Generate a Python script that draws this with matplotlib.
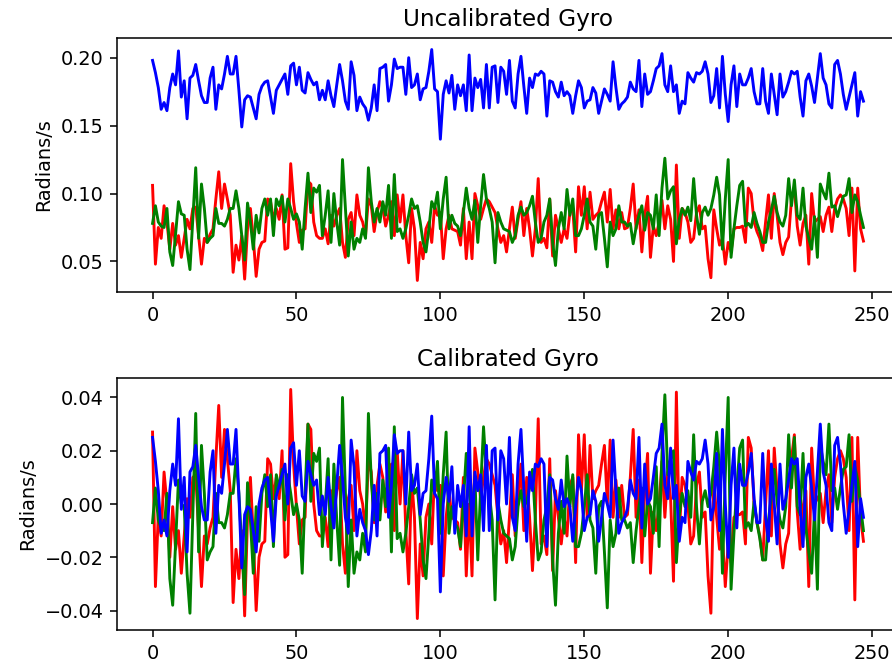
import matplotlib.pyplot as plt
import numpy as np

# Raw gyro readings, radians/s (x = red, y = green, z = blue)
gyro_x = [0.106, 0.048, 0.075, 0.067, 0.091, 0.079, 0.059, 0.078, 0.062, 0.069,
          0.053, 0.067, 0.081, 0.074, 0.089, 0.090, 0.069, 0.048, 0.067, 0.064,
          0.070, 0.074, 0.096, 0.116, 0.089, 0.107, 0.096, 0.084, 0.042, 0.062,
          0.051, 0.069, 0.037, 0.074, 0.089, 0.067, 0.039, 0.059, 0.064, 0.065,
          0.096, 0.094, 0.081, 0.089, 0.081, 0.099, 0.059, 0.060, 0.122, 0.094,
          0.078, 0.064, 0.073, 0.074, 0.109, 0.107, 0.079, 0.069, 0.067, 0.067,
          0.074, 0.063, 0.084, 0.076, 0.084, 0.089, 0.064, 0.053, 0.081, 0.086,
          0.069, 0.099, 0.084, 0.079, 0.069, 0.096, 0.091, 0.072, 0.086, 0.094,
          0.089, 0.076, 0.084, 0.094, 0.069, 0.099, 0.079, 0.099, 0.069, 0.049,
          0.089, 0.074, 0.036, 0.064, 0.052, 0.074, 0.079, 0.064, 0.091, 0.084,
          0.086, 0.052, 0.074, 0.084, 0.074, 0.073, 0.072, 0.062, 0.089, 0.052,
          0.079, 0.052, 0.100, 0.091, 0.081, 0.089, 0.096, 0.094, 0.090, 0.086,
          0.074, 0.064, 0.069, 0.057, 0.074, 0.090, 0.067, 0.081, 0.094, 0.069,
          0.089, 0.074, 0.054, 0.074, 0.111, 0.064, 0.067, 0.060, 0.096, 0.054,
          0.084, 0.074, 0.064, 0.074, 0.067, 0.086, 0.089, 0.057, 0.105, 0.084,
          0.105, 0.074, 0.101, 0.081, 0.084, 0.086, 0.094, 0.101, 0.079, 0.103,
          0.074, 0.088, 0.074, 0.086, 0.074, 0.075, 0.089, 0.107, 0.074, 0.088,
          0.057, 0.084, 0.098, 0.053, 0.076, 0.069, 0.079, 0.095, 0.074, 0.091,
          0.081, 0.050, 0.121, 0.067, 0.089, 0.086, 0.079, 0.064, 0.067, 0.086,
          0.091, 0.074, 0.076, 0.052, 0.038, 0.088, 0.074, 0.062, 0.067, 0.048,
          0.064, 0.057, 0.074, 0.075, 0.075, 0.076, 0.064, 0.104, 0.100, 0.079,
          0.072, 0.067, 0.058, 0.079, 0.099, 0.067, 0.100, 0.084, 0.064, 0.055,
          0.064, 0.068, 0.096, 0.105, 0.076, 0.062, 0.078, 0.084, 0.048, 0.100,
          0.079, 0.081, 0.083, 0.072, 0.084, 0.090, 0.072, 0.089, 0.096, 0.099,
          0.096, 0.089, 0.069, 0.104, 0.043, 0.104, 0.074, 0.065]

gyro_y = [0.078, 0.091, 0.079, 0.076, 0.075, 0.089, 0.057, 0.047, 0.070, 0.094,
          0.085, 0.084, 0.059, 0.044, 0.081, 0.119, 0.067, 0.107, 0.089, 0.064,
          0.067, 0.069, 0.089, 0.078, 0.078, 0.076, 0.081, 0.089, 0.089, 0.102,
          0.089, 0.069, 0.051, 0.093, 0.079, 0.059, 0.084, 0.071, 0.089, 0.096,
          0.084, 0.096, 0.069, 0.096, 0.091, 0.098, 0.079, 0.096, 0.089, 0.081,
          0.085, 0.079, 0.059, 0.089, 0.115, 0.086, 0.104, 0.101, 0.106, 0.069,
          0.084, 0.102, 0.064, 0.100, 0.079, 0.062, 0.125, 0.089, 0.054, 0.079,
          0.059, 0.067, 0.064, 0.074, 0.067, 0.119, 0.094, 0.079, 0.089, 0.079,
          0.094, 0.084, 0.106, 0.067, 0.114, 0.072, 0.074, 0.067, 0.074, 0.084,
          0.096, 0.089, 0.091, 0.079, 0.064, 0.057, 0.074, 0.094, 0.089, 0.101,
          0.074, 0.096, 0.112, 0.074, 0.084, 0.078, 0.076, 0.069, 0.086, 0.104,
          0.089, 0.081, 0.095, 0.064, 0.091, 0.114, 0.096, 0.089, 0.079, 0.049,
          0.086, 0.079, 0.074, 0.073, 0.072, 0.064, 0.069, 0.084, 0.090, 0.084,
          0.086, 0.091, 0.098, 0.079, 0.064, 0.067, 0.079, 0.084, 0.096, 0.064,
          0.047, 0.074, 0.086, 0.074, 0.103, 0.084, 0.096, 0.069, 0.069, 0.074,
          0.084, 0.096, 0.079, 0.076, 0.059, 0.084, 0.086, 0.067, 0.046, 0.079,
          0.069, 0.074, 0.091, 0.079, 0.079, 0.076, 0.078, 0.063, 0.075, 0.084,
          0.091, 0.073, 0.086, 0.084, 0.074, 0.099, 0.069, 0.104, 0.126, 0.096,
          0.102, 0.105, 0.063, 0.081, 0.089, 0.084, 0.090, 0.080, 0.111, 0.084,
          0.070, 0.086, 0.090, 0.084, 0.089, 0.099, 0.112, 0.099, 0.059, 0.096,
          0.125, 0.053, 0.074, 0.091, 0.106, 0.109, 0.076, 0.078, 0.075, 0.086,
          0.078, 0.072, 0.064, 0.064, 0.079, 0.088, 0.098, 0.086, 0.079, 0.076,
          0.084, 0.111, 0.091, 0.110, 0.084, 0.081, 0.104, 0.076, 0.067, 0.059,
          0.083, 0.053, 0.107, 0.101, 0.096, 0.115, 0.090, 0.091, 0.083, 0.091,
          0.098, 0.099, 0.111, 0.086, 0.099, 0.094, 0.084, 0.075]

gyro_z = [0.198, 0.189, 0.178, 0.162, 0.167, 0.161, 0.178, 0.188, 0.180, 0.205,
          0.171, 0.183, 0.155, 0.185, 0.187, 0.195, 0.183, 0.172, 0.167, 0.167,
          0.185, 0.193, 0.162, 0.180, 0.177, 0.188, 0.201, 0.188, 0.188, 0.201,
          0.176, 0.149, 0.169, 0.172, 0.171, 0.163, 0.155, 0.173, 0.179, 0.182,
          0.183, 0.171, 0.159, 0.176, 0.180, 0.184, 0.188, 0.173, 0.194, 0.196,
          0.180, 0.193, 0.176, 0.174, 0.189, 0.184, 0.180, 0.182, 0.169, 0.176,
          0.169, 0.183, 0.172, 0.164, 0.180, 0.195, 0.183, 0.168, 0.162, 0.197,
          0.187, 0.161, 0.171, 0.166, 0.163, 0.154, 0.163, 0.180, 0.161, 0.192,
          0.193, 0.195, 0.168, 0.180, 0.199, 0.192, 0.193, 0.193, 0.173, 0.200,
          0.178, 0.180, 0.188, 0.169, 0.177, 0.178, 0.190, 0.206, 0.177, 0.175,
          0.140, 0.173, 0.183, 0.174, 0.187, 0.162, 0.180, 0.172, 0.180, 0.161,
          0.202, 0.161, 0.185, 0.178, 0.184, 0.163, 0.195, 0.163, 0.193, 0.194,
          0.167, 0.193, 0.190, 0.173, 0.198, 0.168, 0.163, 0.188, 0.201, 0.179,
          0.159, 0.185, 0.178, 0.188, 0.187, 0.190, 0.188, 0.157, 0.183, 0.182,
          0.175, 0.171, 0.182, 0.172, 0.175, 0.172, 0.159, 0.172, 0.183, 0.178,
          0.163, 0.168, 0.169, 0.178, 0.174, 0.159, 0.168, 0.177, 0.173, 0.168,
          0.197, 0.178, 0.162, 0.166, 0.168, 0.171, 0.182, 0.177, 0.175, 0.198,
          0.164, 0.188, 0.173, 0.175, 0.183, 0.192, 0.194, 0.203, 0.180, 0.175,
          0.194, 0.175, 0.180, 0.159, 0.168, 0.166, 0.189, 0.185, 0.182, 0.189,
          0.188, 0.190, 0.197, 0.188, 0.167, 0.172, 0.192, 0.163, 0.201, 0.173,
          0.153, 0.180, 0.194, 0.164, 0.188, 0.180, 0.180, 0.185, 0.192, 0.175,
          0.166, 0.166, 0.192, 0.168, 0.159, 0.188, 0.173, 0.158, 0.188, 0.171,
          0.175, 0.182, 0.190, 0.188, 0.190, 0.171, 0.157, 0.183, 0.188, 0.179,
          0.167, 0.185, 0.203, 0.185, 0.180, 0.166, 0.163, 0.195, 0.198, 0.188,
          0.173, 0.162, 0.171, 0.180, 0.189, 0.157, 0.175, 0.168]

# Gyro bias per axis (offset between the two panels)
bias_x = 0.079
bias_y = 0.085
bias_z = 0.173

t = np.arange(len(gyro_x))

# Calibrate by removing the bias
cal_x = np.array(gyro_x) - bias_x
cal_y = np.array(gyro_y) - bias_y
cal_z = np.array(gyro_z) - bias_z

# Set up figure
dpi = 139
f = plt.figure(figsize=(892 / dpi, 666 / dpi), dpi=dpi)
ax1 = f.add_axes([117 / 892, 1 - 292 / 666, 782 / 892, 254 / 666])
ax2 = f.add_axes([117 / 892, 1 - 630 / 666, 782 / 892, 252 / 666])

# Uncalibrated
ax1.plot(t, gyro_x, 'r-')
ax1.plot(t, gyro_y, 'g-')
ax1.plot(t, gyro_z, 'b-')
ax1.set_title("Uncalibrated Gyro")
ax1.set_ylabel("Radians/s")

# Calibrated
ax2.plot(t, cal_x, 'r-')
ax2.plot(t, cal_y, 'g-')
ax2.plot(t, cal_z, 'b-')
ax2.set_title("Calibrated Gyro")
ax2.set_ylabel("Radians/s")

plt.savefig("out.png", dpi=dpi)
plt.close(f)
